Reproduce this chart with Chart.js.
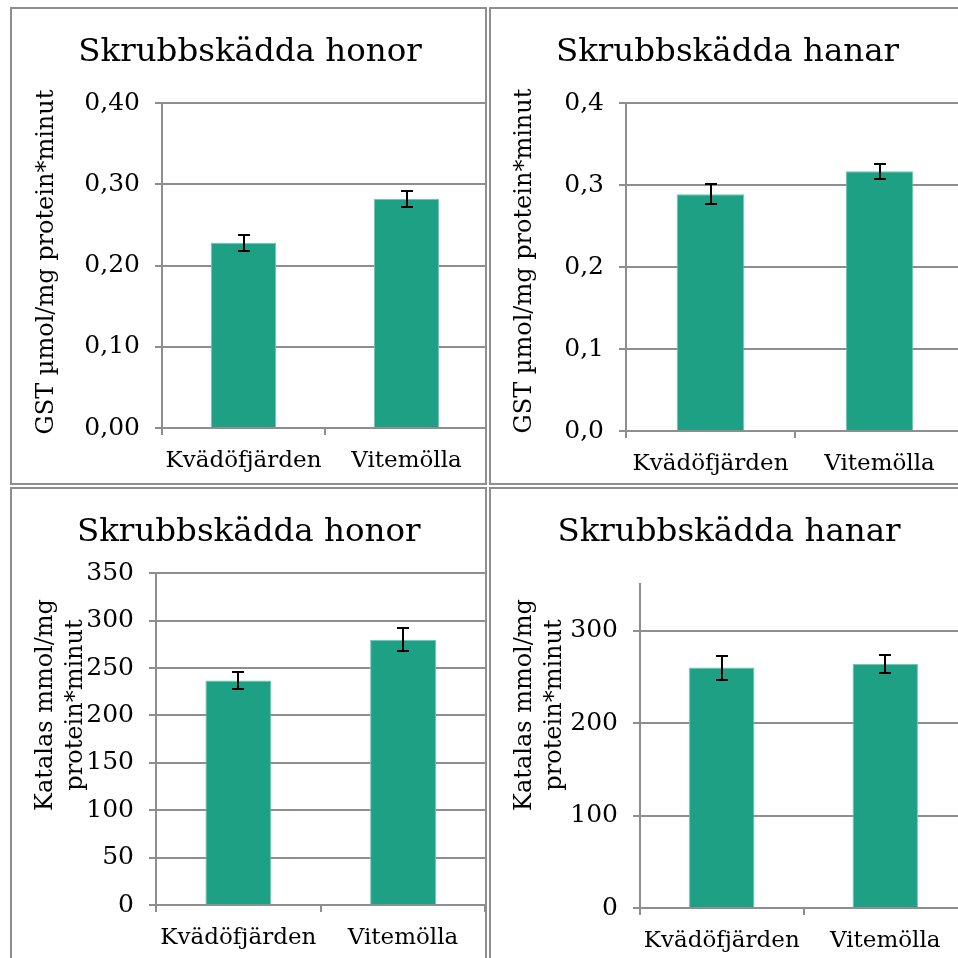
<!DOCTYPE html>
<html>
<head>
<meta charset="utf-8">
<script src="https://cdn.jsdelivr.net/npm/chart.js@4.4.1/dist/chart.umd.min.js"></script>
<style>
  html, body { margin: 0; padding: 0; background: #fff; overflow: hidden; }
  body { width: 958px; height: 958px; position: relative; }
  .panel { position: absolute; box-sizing: border-box; border: 2px solid #8e8e8e; overflow: hidden; background: #fff; }
  .panel canvas { position: absolute; left: 0; top: 0; }
</style>
</head>
<body>
<div class="panel" style="left:10px;top:7px;width:477px;height:478px"><canvas id="c1" width="476" height="474"></canvas></div>
<div class="panel" style="left:489px;top:7px;width:480px;height:478px"><canvas id="c2" width="476" height="474"></canvas></div>
<div class="panel" style="left:10px;top:487px;width:477px;height:480px"><canvas id="c3" width="476" height="474"></canvas></div>
<div class="panel" style="left:489px;top:487px;width:480px;height:480px"><canvas id="c4" width="476" height="474"></canvas></div>
<script>
var sites = ['Kvädöfjärden', 'Vitemölla'];

var gstHonor = [0.228, 0.282];
var gstHonorErr = [0.010, 0.010];
var gstHanar = [0.289, 0.317];
var gstHanarErr = [0.012, 0.009];
var katHonor = [237, 280];
var katHonorErr = [9, 12];
var katHanar = [260, 264];
var katHanarErr = [13, 10];

var titleHonor = 'Skrubbskädda honor';
var titleHanar = 'Skrubbskädda hanar';
var gstLabel = ['GST µmol/mg protein*minut'];
var katLabel = ['Katalas mmol/mg', 'protein*minut'];

var FONT = "'DejaVu Serif', 'Liberation Serif', serif";
var GRID = '#8e8e8e';
var BAR = '#1ea084';

// error bars drawn from the y scale
var errorBars = {
    id: 'errorBars',
    afterDatasetsDraw: function(chart, args, opts) {
        let meta = chart.getDatasetMeta(0);
        let y = chart.scales.y;
        let ctx = chart.ctx;
        ctx.save();
        ctx.strokeStyle = '#000';
        ctx.lineWidth = 2;
        meta.data.forEach(function(bar, i) {
            let v = chart.data.datasets[0].data[i];
            let e = opts.errors[i];
            let top = Math.round(y.getPixelForValue(v + e));
            let bot = Math.round(y.getPixelForValue(v - e));
            let x = Math.round(bar.x);
            ctx.beginPath();
            ctx.moveTo(x, top); ctx.lineTo(x, bot);
            ctx.moveTo(x - 6, top); ctx.lineTo(x + 6, top);
            ctx.moveTo(x - 6, bot); ctx.lineTo(x + 6, bot);
            ctx.stroke();
        });
        ctx.restore();
    }
};

// y axis title, placed like the spreadsheet did it
var yTitle = {
    id: 'yTitle',
    afterDraw: function(chart, args, opts) {
        let ctx = chart.ctx;
        ctx.save();
        ctx.translate(opts.x, opts.y);
        ctx.rotate(-Math.PI / 2);
        ctx.font = '24px ' + FONT;
        ctx.fillStyle = '#000';
        ctx.textAlign = 'center';
        ctx.textBaseline = 'alphabetic';
        for (let i = 0; i < opts.lines.length; i++) {
            ctx.fillText(opts.lines[i], 0, i * opts.gap);
        }
        ctx.restore();
    }
};

function makeChart(id, p) {
    let ctx = document.getElementById(id);
    return new Chart(ctx, {
        type: 'bar',
        data: {
            labels: sites,
            datasets: [{
                data: p.values,
                backgroundColor: BAR,
                borderColor: '#6cc6b1',
                borderWidth: {top: 1, left: 1, right: 1, bottom: 0},
                barPercentage: 0.4,
                categoryPercentage: 1.0
            }]
        },
        plugins: [errorBars, yTitle],
        options: {
            responsive: false,
            animation: false,
            layout: { padding: { left: 0, top: 0, bottom: 0, right: p.padRight } },
            plugins: {
                legend: { display: false },
                tooltip: { enabled: false },
                title: {
                    display: true,
                    text: p.title,
                    color: '#000',
                    font: { family: FONT, size: 32.5, weight: 'normal', lineHeight: 1.2 },
                    padding: { top: p.titleTop, bottom: p.titleBottom }
                },
                errorBars: { errors: p.errors },
                yTitle: { lines: p.axisTitle, x: p.axisX, y: p.axisY, gap: 30 }
            },
            scales: {
                x: {
                    afterFit: function(scale) { scale.height = p.xHeight; },
                    grid: { offset: true, drawOnChartArea: false, drawTicks: true, tickLength: 7, color: GRID, lineWidth: 2 },
                    border: { color: GRID, width: 2 },
                    ticks: { color: '#000', padding: 12, font: { family: FONT, size: 23 } }
                },
                y: {
                    min: 0,
                    max: p.max,
                    afterFit: function(scale) { scale.width = p.yWidth; },
                    afterBuildTicks: function(scale) {
                        scale.ticks = scale.ticks.filter(function(t) { return p.drop === undefined || t.value !== p.drop; });
                    },
                    grid: { drawTicks: true, tickLength: 7, color: GRID, lineWidth: 2 },
                    border: { color: GRID, width: 2 },
                    ticks: {
                        stepSize: p.step,
                        color: '#000',
                        padding: 15,
                        font: { family: FONT, size: 25 },
                        callback: function(v) { return p.decimals > 0 ? v.toFixed(p.decimals).replace('.', ',') : String(v); }
                    }
                }
            }
        }
    });
}

makeChart('c1', { title: titleHonor, values: gstHonor, errors: gstHonorErr, max: 0.4, step: 0.1, decimals: 2,
    axisTitle: gstLabel, axisX: 41, axisY: 253, yWidth: 150, xHeight: 55, titleTop: 24, titleBottom: 31, padRight: 0 });
makeChart('c2', { title: titleHanar, values: gstHanar, errors: gstHanarErr, max: 0.4, step: 0.1, decimals: 1,
    axisTitle: gstLabel, axisX: 40, axisY: 252, yWidth: 135, xHeight: 52, titleTop: 24, titleBottom: 31.3, padRight: 3 });
makeChart('c3', { title: titleHonor, values: katHonor, errors: katHonorErr, max: 350, step: 50, decimals: 0,
    axisTitle: katLabel, axisX: 40, axisY: 216, yWidth: 144, xHeight: 58, titleTop: 24, titleBottom: 21.3, padRight: 2.6 });
makeChart('c4', { title: titleHanar, values: katHanar, errors: katHanarErr, max: 350, step: 100, decimals: 0, drop: 350,
    axisTitle: katLabel, axisX: 40, axisY: 216, yWidth: 149, xHeight: 55, titleTop: 24, titleBottom: 32.3, padRight: 0 });
</script>
</body>
</html>
